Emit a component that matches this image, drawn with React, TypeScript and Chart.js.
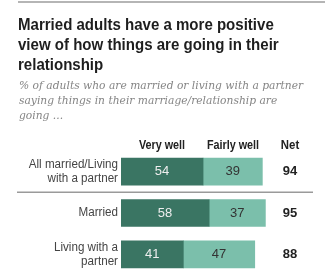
import React, { useEffect, useRef } from "react";
import { Chart, registerables } from "chart.js";

Chart.register(...registerables);

const categories: string[][] = [["All married/Living", "with a partner"], ["Married"], ["Living with a", "partner"]];
const veryWell = [54, 58, 41];
const fairlyWell = [39, 37, 47];
const netValues = [94, 95, 88];
const seriesNames = ["Very well", "Fairly well"];
const titleLines = ["Married adults have a more positive", "view of how things are going in their", "relationship"];
const subtitleLines = [
  "% of adults who are married or living with a partner",
  "saying things in their marriage/relationship are",
  "going ...",
];

const DARK = "#3a7563";
const LIGHT = "#7bbfab";

function squeezeText(ctx: CanvasRenderingContext2D, t: string, x: number, y: number, f: number) {
  const w = ctx.measureText(t).width;
  ctx.fillText(t, x, y, w * f);
}

const textPlugin = {
  id: "pewText",
  afterDraw(chart: any) {
    const ctx = chart.ctx as CanvasRenderingContext2D;
    ctx.save();
    // top rule
    ctx.strokeStyle = "#b5b5b5";
    ctx.lineWidth = 2;
    ctx.beginPath();
    ctx.moveTo(18, 2);
    ctx.lineTo(325, 2);
    ctx.stroke();

    // title
    ctx.fillStyle = "#1e1e1e";
    ctx.font = "bold 16px 'Liberation Sans', Arial, sans-serif";
    ctx.textAlign = "left";
    ctx.textBaseline = "alphabetic";
    titleLines.forEach((l, i) => squeezeText(ctx, l, 18, 30 + i * 20, 0.94));

    // subtitle
    ctx.fillStyle = "#858585";
    ctx.font = "italic 11.5px 'DejaVu Serif', serif";
    subtitleLines.forEach((l, i) => squeezeText(ctx, l, 19, 89 + i * 14.8, 0.93));

    const meta0 = chart.getDatasetMeta(0);
    const meta1 = chart.getDatasetMeta(1);

    // headers
    ctx.fillStyle = "#222";
    ctx.font = "bold 12px 'Liberation Sans', Arial, sans-serif";
    ctx.textAlign = "center";
    ctx.textBaseline = "middle";
    squeezeText(ctx, seriesNames[0], 162, 146, 0.9);
    squeezeText(ctx, seriesNames[1], 233, 146, 0.9);
    squeezeText(ctx, "Net", 290, 146, 0.95);

    // category labels
    ctx.fillStyle = "#444";
    ctx.font = "12px 'Liberation Sans', Arial, sans-serif";
    ctx.textAlign = "right";
    categories.forEach((lines, i) => {
      const y = meta0.data[i].y;
      const lh = 14;
      const start = y - ((lines.length - 1) * lh) / 2;
      lines.forEach((l, j) => squeezeText(ctx, l, 118, start + j * lh, 0.97));
    });

    // value labels
    ctx.textAlign = "center";
    ctx.font = "13px 'Liberation Sans', Arial, sans-serif";
    meta0.data.forEach((bar: any, i: number) => {
      ctx.fillStyle = "#eeeeee";
      ctx.fillText(String(veryWell[i]), (bar.base + bar.x) / 2, bar.y);
    });
    meta1.data.forEach((bar: any, i: number) => {
      ctx.fillStyle = "#333";
      ctx.fillText(String(fairlyWell[i]), (bar.base + bar.x) / 2, bar.y);
    });

    // net
    ctx.font = "bold 13px 'Liberation Sans', Arial, sans-serif";
    ctx.fillStyle = "#222";
    meta0.data.forEach((bar: any, i: number) => {
      ctx.fillText(String(netValues[i]), 290, bar.y);
    });

    // separator
    const sepY = (meta0.data[0].y + meta0.data[1].y) / 2;
    ctx.strokeStyle = "#9a9a9a";
    ctx.lineWidth = 1.5;
    ctx.beginPath();
    ctx.moveTo(17, sepY);
    ctx.lineTo(313, sepY);
    ctx.stroke();
    ctx.restore();
  },
};

export default function App() {
  const ref = useRef<HTMLCanvasElement>(null);
  useEffect(() => {
    document.body.style.margin = "0";
    const chart = new Chart(ref.current!, {
      type: "bar",
      data: {
        labels: categories.map((c) => c.join(" ")),
        datasets: [
          { label: seriesNames[0], data: veryWell, backgroundColor: DARK, barThickness: 27 },
          { label: seriesNames[1], data: fairlyWell, backgroundColor: LIGHT, barThickness: 27 },
        ],
      },
      options: {
        indexAxis: "y",
        responsive: false,
        animation: false,
        layout: { padding: { left: 121, right: 54, top: 151, bottom: 0 } },
        scales: {
          x: { display: false, stacked: true, min: 0, max: 100 },
          y: { display: false, stacked: true },
        },
        plugins: { legend: { display: false }, tooltip: { enabled: false }, title: { display: false } },
      },
      plugins: [textPlugin],
    });
    return () => chart.destroy();
  }, []);
  return (
    <canvas
      ref={ref}
      width={327}
      height={275}
      style={{ position: "absolute", left: 0, top: 0, width: 327, height: 275, background: "#fff" }}
    />
  );
}
